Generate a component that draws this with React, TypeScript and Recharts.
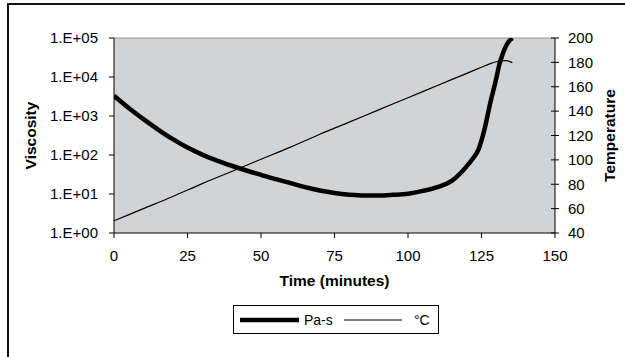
import React from 'react';
import { LineChart, Line, XAxis, YAxis, CartesianGrid, ReferenceLine } from 'recharts';

const timeTicks = [0, 25, 50, 75, 100, 125, 150];
const viscosityTicks = [1, 10, 100, 1000, 10000, 100000];
const temperatureTicks = [40, 60, 80, 100, 120, 140, 160, 180, 200];

const viscTime = [0, 5, 10, 15, 20, 25, 30, 35, 40, 45, 50, 55, 60, 65, 70, 75, 80, 85, 90, 95, 100, 105, 110, 115, 118, 120, 122, 124, 126, 128, 130, 131, 132, 133, 134, 135.5];
const viscValues = [3300, 1600, 830, 450, 255, 155, 102, 72, 53, 40, 31, 24, 19, 15, 12.3, 10.6, 9.6, 9.1, 9.1, 9.5, 10.2, 12, 15, 22, 35, 52, 80, 140, 450, 2200, 9000, 20000, 35000, 55000, 76000, 100000];

const tempTime = [0, 10, 20, 30, 40, 50, 60, 70, 80, 90, 100, 110, 120, 125, 128, 130, 132, 133.5, 135.5];
const tempValues = [50, 60, 70, 80.5, 90.5, 100.5, 110.5, 121, 131, 141, 151, 161, 171, 176, 179, 180.5, 181.3, 181.4, 179.8];

const viscData = viscTime.map((t, i) => ({ t, visc: viscValues[i] }));
const tempData = tempTime.map((t, i) => ({ t, temp: tempValues[i] }));

const FONT = '"Liberation Sans", Arial, sans-serif';

const fmtExp = (v: number) => {
  const e = Math.round(Math.log10(v));
  return `1.E+${String(e).padStart(2, '0')}`;
};

const RightTick = (props: any) => {
  const { x, y, payload } = props;
  return (
    <g>
      <line x1={x - 13 - 4} x2={x - 13} y1={y} y2={y} stroke="#000" strokeWidth={1} />
      <text x={x} y={y} dy="0.35em" textAnchor="start" fontSize={15} fontFamily={FONT} fill="#000">
        {payload.value}
      </text>
    </g>
  );
};

const LegendBox = () => (
  <div
    style={{
      position: 'absolute',
      left: 233,
      top: 305,
      width: 204,
      height: 27,
      border: '1px solid #000',
      background: '#fff',
      display: 'flex',
      alignItems: 'center',
      fontFamily: FONT,
      fontSize: 14,
      color: '#000',
      boxSizing: 'content-box',
    }}
  >
    <svg width={70} height={27} style={{ display: 'block' }}>
      <line x1={6} x2={65} y1={14} y2={14} stroke="#000" strokeWidth={4.5} />
    </svg>
    <span style={{ width: 40 }}>Pa-s</span>
    <svg width={70} height={27} style={{ display: 'block' }}>
      <line x1={0} x2={58} y1={14} y2={14} stroke="#000" strokeWidth={1} />
    </svg>
    <span>°C</span>
  </div>
);

export default function App() {
  return (
    <div style={{ position: 'fixed', left: 0, top: 0, width: 625, height: 357, background: '#fff', overflow: 'hidden' }}>
      <div
        style={{
          position: 'absolute',
          left: 7,
          top: 3,
          width: 700,
          height: 400,
          borderTop: '2px solid #111',
          borderLeft: '2px solid #111',
        }}
      />
      <div style={{ position: 'absolute', left: 0, top: 0 }}>
        <LineChart width={625} height={357} margin={{ top: 38, right: 10, left: 10, bottom: 70 }}>
          <CartesianGrid horizontal={false} vertical={false} fill="#d2d3d5" yAxisId="left" />
          <XAxis
            dataKey="t"
            type="number"
            domain={[0, 150]}
            ticks={timeTicks}
            interval={0}
            allowDataOverflow
            stroke="#000"
            tickSize={5}
            tickMargin={12}
            height={54}
            tick={{ fontSize: 15, fontFamily: FONT, fill: '#000' }}
            label={{
              content: () => (
                <text x={334.5} y={286} textAnchor="middle" fontSize={15.5} fontWeight="bold" fontFamily={FONT} fill="#000">
                  Time (minutes)
                </text>
              ),
            }}
          />
          <YAxis
            yAxisId="left"
            scale="log"
            domain={[1, 100000]}
            ticks={viscosityTicks}
            interval={0}
            allowDataOverflow
            width={104}
            stroke="#000"
            tickSize={5}
            tickMargin={11}
            tickFormatter={fmtExp}
            tick={{ fontSize: 15, fontFamily: FONT, fill: '#000' }}
            label={{
              content: () => (
                <text
                  x={30}
                  y={135.5}
                  transform="rotate(-90 30 135.5)"
                  textAnchor="middle"
                  dominantBaseline="central"
                  fontSize={15.5}
                  fontWeight="bold"
                  fontFamily={FONT}
                  fill="#000"
                >
                  Viscosity
                </text>
              ),
            }}
          />
          <YAxis
            yAxisId="right"
            orientation="right"
            domain={[40, 200]}
            ticks={temperatureTicks}
            interval={0}
            allowDataOverflow
            width={60}
            stroke="#000"
            tickSize={4}
            tickMargin={9}
            tick={RightTick}
            label={{
              content: () => (
                <text
                  x={609}
                  y={135.5}
                  transform="rotate(-90 609 135.5)"
                  textAnchor="middle"
                  dominantBaseline="central"
                  fontSize={15.5}
                  fontWeight="bold"
                  fontFamily={FONT}
                  fill="#000"
                >
                  Temperature
                </text>
              ),
            }}
          />
          <ReferenceLine yAxisId="left" y={100000} stroke="#9a9a9a" strokeWidth={1} />
          <Line
            yAxisId="right"
            data={tempData}
            dataKey="temp"
            type="monotone"
            stroke="#000"
            strokeWidth={1.2}
            dot={false}
            activeDot={false}
            isAnimationActive={false}
            name="°C"
          />
          <Line
            yAxisId="left"
            data={viscData}
            dataKey="visc"
            type="monotone"
            stroke="#000"
            strokeWidth={4.5}
            dot={false}
            activeDot={false}
            isAnimationActive={false}
            name="Pa-s"
          />
        </LineChart>
      </div>
      <LegendBox />
    </div>
  );
}
